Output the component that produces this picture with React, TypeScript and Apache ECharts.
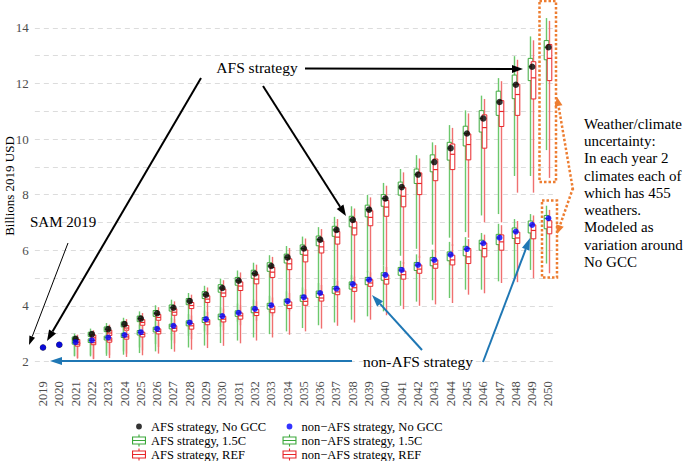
import React, { useEffect, useRef } from "react";
import * as echarts from "echarts";

// ---------- data ----------
const years = [
  "2019","2020","2021","2022","2023","2024","2025","2026","2027","2028","2029","2030",
  "2031","2032","2033","2034","2035","2036","2037","2038","2039","2040","2041","2042",
  "2043","2044","2045","2046","2047","2048","2049","2050",
];

// No GCC point estimates (2019-2050)
const afsNoGcc = [2.5, 2.6, 2.81, 2.98, 3.16, 3.34, 3.54, 3.73, 3.93, 4.17, 4.4, 4.64, 4.9, 5.16, 5.43, 5.74, 6.06, 6.38, 6.73, 7.09, 7.46, 7.86, 8.27, 8.72, 9.17, 9.67, 10.2, 10.74, 11.33, 11.95, 12.6, 13.3];
const nonAfsNoGcc = [2.5, 2.6, 2.69, 2.76, 2.86, 2.95, 3.05, 3.17, 3.28, 3.4, 3.52, 3.63, 3.75, 3.89, 4.02, 4.17, 4.31, 4.46, 4.62, 4.78, 4.94, 5.11, 5.29, 5.47, 5.65, 5.84, 6.04, 6.25, 6.45, 6.67, 6.91, 7.15];

// boxplots 2021-2050: [min, Q1, median, Q3, max]
const boxFirstYearIndex = 2;
const afs15C = [
  [2.2,2.74,2.81,2.88,3.0],[2.22,2.9,2.98,3.05,3.18],[2.28,3.07,3.16,3.24,3.38],[2.36,3.24,3.34,3.42,3.57],
  [2.5,3.43,3.54,3.63,3.8],[2.62,3.62,3.73,3.83,4.02],[2.76,3.81,3.93,4.03,4.22],[2.92,4.04,4.17,4.26,4.46],
  [3.08,4.26,4.4,4.51,4.72],[3.25,4.49,4.64,4.76,4.98],[3.43,4.74,4.9,5.02,5.27],[3.6,4.99,5.16,5.28,5.55],
  [3.78,5.24,5.43,5.55,5.82],[3.98,5.54,5.74,5.86,6.15],[4.2,5.85,6.06,6.19,6.49],[4.4,6.16,6.38,6.51,6.83],
  [4.66,6.5,6.73,6.86,7.2],[4.95,6.84,7.09,7.22,7.58],[5.2,7.2,7.46,7.62,7.99],[5.45,7.58,7.86,8.0,8.42],
  [5.8,7.98,8.27,8.45,8.92],[6.05,8.4,8.72,8.92,9.42],[6.2,8.82,9.17,9.43,9.88],[6.45,9.24,9.67,9.88,10.5],
  [6.65,9.75,10.2,10.46,11.03],[7.25,10.25,10.74,11.02,11.56],[7.3,10.85,11.33,11.72,12.19],[8.67,11.45,11.95,12.3,12.98],
  [8.67,12.1,12.6,12.9,13.69],[9.6,12.85,13.3,13.54,14.35],
];
const afsRef = [
  [2.12,2.62,2.7,2.79,2.96],[2.1,2.76,2.85,2.95,3.12],[2.22,2.93,3.02,3.12,3.32],[2.28,3.12,3.2,3.29,3.52],
  [2.4,3.3,3.4,3.5,3.74],[2.52,3.48,3.58,3.69,3.95],[2.65,3.66,3.77,3.89,4.16],[2.8,3.9,4.01,4.12,4.4],
  [2.96,4.12,4.24,4.36,4.66],[3.12,4.33,4.46,4.6,4.92],[3.3,4.55,4.71,4.86,5.2],[3.46,4.79,4.96,5.12,5.48],
  [3.62,5.02,5.21,5.38,5.76],[3.8,5.3,5.51,5.69,6.08],[4.0,5.58,5.82,6.01,6.42],[4.22,5.9,6.12,6.33,6.76],
  [4.45,6.22,6.47,6.67,7.12],[4.7,6.55,6.8,7.02,7.5],[4.92,6.88,7.18,7.42,7.9],[5.18,7.22,7.55,7.79,8.32],
  [5.5,7.56,7.94,8.25,8.8],[5.72,8.0,8.4,8.78,9.3],[5.92,8.5,8.9,9.28,9.78],[6.15,8.9,9.45,9.82,10.4],
  [6.45,9.25,9.8,10.18,10.92],[7.0,9.67,10.41,10.87,11.44],[7.0,10.45,10.99,11.38,12.08],[8.07,10.85,11.6,11.97,12.85],
  [8.07,11.44,12.2,12.78,13.55],[8.6,12.1,12.9,13.4,14.25],
];
const nonAfs15C = [
  [2.18,2.62,2.68,2.73,2.86],[2.18,2.68,2.75,2.81,2.96],[2.2,2.77,2.85,2.91,3.08],[2.24,2.86,2.94,3.01,3.2],
  [2.3,2.95,3.04,3.11,3.32],[2.36,3.06,3.16,3.23,3.44],[2.44,3.17,3.27,3.34,3.57],[2.5,3.28,3.39,3.46,3.7],
  [2.57,3.4,3.51,3.58,3.83],[2.66,3.5,3.62,3.7,3.95],[2.75,3.62,3.74,3.82,4.08],[2.86,3.75,3.88,3.96,4.22],
  [2.98,3.88,4.01,4.09,4.36],[3.08,4.02,4.16,4.24,4.52],[3.2,4.16,4.3,4.38,4.66],[3.3,4.3,4.45,4.53,4.82],
  [3.4,4.45,4.61,4.69,4.96],[3.5,4.6,4.77,4.86,5.1],[3.62,4.76,4.93,5.02,5.26],[3.8,4.92,5.1,5.19,5.45],
  [4.0,5.1,5.28,5.38,5.62],[4.15,5.27,5.46,5.56,5.85],[4.2,5.44,5.64,5.74,6.02],[4.28,5.62,5.83,5.94,6.3],
  [4.58,5.8,6.03,6.14,6.47],[4.58,6.0,6.24,6.36,6.62],[4.88,6.2,6.44,6.57,6.95],[4.99,6.42,6.66,6.8,7.12],
  [5.29,6.62,6.9,7.05,7.3],[5.52,6.77,7.14,7.25,7.6],
];
const nonAfsRef = [
  [2.1,2.55,2.62,2.68,2.82],[2.08,2.6,2.67,2.75,2.92],[2.12,2.69,2.77,2.85,3.04],[2.16,2.8,2.88,2.96,3.16],
  [2.22,2.88,2.97,3.05,3.28],[2.28,2.99,3.08,3.17,3.4],[2.35,3.09,3.19,3.28,3.52],[2.42,3.16,3.28,3.36,3.65],
  [2.48,3.32,3.42,3.5,3.78],[2.56,3.42,3.52,3.62,3.9],[2.65,3.52,3.64,3.74,4.02],[2.75,3.65,3.76,3.87,4.16],
  [2.86,3.75,3.88,3.99,4.3],[2.96,3.9,4.02,4.14,4.46],[3.08,4.02,4.16,4.28,4.6],[3.18,4.17,4.28,4.4,4.75],
  [3.28,4.4,4.5,4.62,4.9],[3.4,4.52,4.65,4.78,5.05],[3.5,4.7,4.82,4.94,5.2],[3.66,4.78,4.95,5.11,5.4],
  [3.88,4.96,5.12,5.25,5.58],[4.0,5.17,5.32,5.47,5.8],[4.05,5.35,5.5,5.65,5.98],[4.1,5.47,5.65,5.82,6.22],
  [4.4,5.52,5.76,6.06,6.4],[4.45,5.76,6.06,6.26,6.56],[4.82,6.0,6.3,6.55,6.9],[4.85,6.24,6.44,6.65,7.05],
  [4.99,6.41,6.71,6.91,7.25],[5.17,6.59,6.83,7.06,7.45],
];

const yTickLabels = [2, 4, 6, 8, 10, 12, 14];

const seriesNames = {
  afsNo: "AFS strategy, No GCC",
  afs15: "AFS strategy, 1.5C",
  afsRef: "AFS strategy, REF",
  nonNo: "non\u2212AFS strategy, No GCC",
  non15: "non\u2212AFS strategy, 1.5C",
  nonRef: "non\u2212AFS strategy, REF",
};

// ---------- styling ----------
const FONT = "'Liberation Serif', 'DejaVu Serif', serif";
const GREEN = "#3aa83a";
const GREEN_WHISKER = "#6cc86c";
const RED = "#e8262a";
const RED_WHISKER = "#f07070";
const BLUE_ARROW = "#1f77b4";
const ORANGE = "#ed7d31";

const BOX_ICON =
  "path://M0 2H14V3.1H0Z M0 8.9H14V10H0Z M0 2H1.1V10H0Z M12.9 2H14V10H12.9Z M0 5.45H14V6.55H0Z M6.45 0H7.55V2H6.45Z M6.45 10H7.55V12H6.45Z";
const DOT_ICON =
  "path://M4.1 6A2.9 2.9 0 1 1 9.9 6A2.9 2.9 0 1 1 4.1 6Z M0 0L0.01 0L0 0.01Z M14 12L13.99 12L14 11.99Z";

function boxRenderer(color: string, whisker: string, dx: number) {
  return (params: any, api: any) => {
    const idx = api.value(0);
    const pMin = api.coord([idx, api.value(1)]);
    const pQ1 = api.coord([idx, api.value(2)]);
    const pMed = api.coord([idx, api.value(3)]);
    const pQ3 = api.coord([idx, api.value(4)]);
    const pMax = api.coord([idx, api.value(5)]);
    const cx = Math.round(pMin[0] + dx) + 0.5;
    const w = 4.6;
    return {
      type: "group",
      children: [
        { type: "line", shape: { x1: cx, y1: pMax[1], x2: cx, y2: pQ3[1] }, style: { stroke: whisker, lineWidth: 1.4 } },
        { type: "line", shape: { x1: cx, y1: pQ1[1], x2: cx, y2: pMin[1] }, style: { stroke: whisker, lineWidth: 1.4 } },
        {
          type: "rect",
          shape: { x: cx - w / 2, y: pQ3[1], width: w, height: pQ1[1] - pQ3[1] },
          style: { fill: "#ffffff", stroke: color, lineWidth: 1 },
        },
        { type: "line", shape: { x1: cx - w / 2, y1: pMed[1], x2: cx + w / 2, y2: pMed[1] }, style: { stroke: color, lineWidth: 1.2 } },
      ],
    };
  };
}

function toBoxData(boxes: number[][]) {
  return boxes.map((b, i) => [i + boxFirstYearIndex, ...b]);
}

function arrow(
  x1: number, y1: number, x2: number, y2: number,
  color: string, width: number, headLen: number, headW: number, dash?: number[]
) {
  const ang = Math.atan2(y2 - y1, x2 - x1);
  const bx = x2 - headLen * Math.cos(ang);
  const by = y2 - headLen * Math.sin(ang);
  const px = (-Math.sin(ang) * headW) / 2;
  const py = (Math.cos(ang) * headW) / 2;
  return [
    {
      type: "line",
      z: 100,
      silent: true,
      shape: { x1, y1, x2: bx, y2: by },
      style: { stroke: color, lineWidth: width, lineDash: dash || null },
    },
    {
      type: "polygon",
      z: 100,
      silent: true,
      shape: { points: [[x2, y2], [bx + px, by + py], [bx - px, by - py]] },
      style: { fill: color },
    },
  ];
}

function textEl(text: string, x: number, y: number, size: number, align = "center", extra: any = {}, rotation = 0) {
  return {
    type: "text",
    z: 100,
    silent: true,
    x,
    y,
    rotation,
    style: {
      text,
      fontFamily: FONT,
      fontSize: size,
      fill: "#000000",
      align,
      verticalAlign: "middle",
      ...extra,
    },
  };
}

export default function App() {
  const ref = useRef<HTMLDivElement>(null);

  useEffect(() => {
    if (!ref.current) return;
    const chart = echarts.init(ref.current, null, { renderer: "svg" });

    const legendText = { fontFamily: FONT, fontSize: 12.5, lineHeight: 13, color: "#000000" };
    const legendBase = {
      top: 420,
      height: 60,
      padding: 0,
      orient: "vertical",
      itemWidth: 14,
      itemHeight: 12,
      itemGap: 1,
      selectedMode: false,
      textStyle: legendText,
    };
    const option: any = {
      animation: false,
      backgroundColor: "#ffffff",
      textStyle: { fontFamily: FONT },
      grid: { left: 34.85, right: 128.4, top: -5.17, bottom: 71.8, containLabel: false },
      xAxis: {
        type: "category",
        data: years,
        boundaryGap: true,
        axisLine: { show: false },
        axisTick: { show: false },
        splitLine: { show: false },
        axisLabel: {
          interval: 0,
          rotate: 90,
          margin: -8,
          fontFamily: FONT,
          fontSize: 12.5,
          color: "#4d4d4d",
        },
      },
      yAxis: {
        type: "value",
        min: 1,
        max: 15,
        interval: 1,
        axisLine: { show: false },
        axisTick: { show: false },
        axisLabel: {
          margin: 6,
          fontFamily: FONT,
          fontSize: 13,
          color: "#4d4d4d",
          formatter: (v: number) => (yTickLabels.indexOf(v) >= 0 ? String(v) : ""),
        },
        splitLine: {
          show: true,
          showMinLine: false,
          showMaxLine: false,
          lineStyle: { color: "#dcdcdc", width: 1, type: [5, 4] },
        },
      },
      legend: [
        {
          ...legendBase,
          left: 132,
          data: [
            { name: seriesNames.afsNo, icon: DOT_ICON, itemStyle: { color: "#000000", borderWidth: 0 } },
            { name: seriesNames.afs15, icon: BOX_ICON, itemStyle: { color: GREEN, borderWidth: 0 } },
            { name: seriesNames.afsRef, icon: BOX_ICON, itemStyle: { color: RED, borderWidth: 0 } },
          ],
        },
        {
          ...legendBase,
          left: 282.5,
          data: [
            { name: seriesNames.nonNo, icon: DOT_ICON, itemStyle: { color: "#0000ff", borderWidth: 0 } },
            { name: seriesNames.non15, icon: BOX_ICON, itemStyle: { color: GREEN, borderWidth: 0 } },
            { name: seriesNames.nonRef, icon: BOX_ICON, itemStyle: { color: RED, borderWidth: 0 } },
          ],
        },
      ],
      series: [
        {
          name: seriesNames.afs15,
          type: "custom",
          renderItem: boxRenderer(GREEN, GREEN_WHISKER, -2),
          encode: { x: 0, y: [1, 2, 3, 4, 5] },
          data: toBoxData(afs15C),
          itemStyle: { color: GREEN },
          z: 2,
        },
        {
          name: seriesNames.non15,
          type: "custom",
          renderItem: boxRenderer(GREEN, GREEN_WHISKER, -2),
          encode: { x: 0, y: [1, 2, 3, 4, 5] },
          data: toBoxData(nonAfs15C),
          itemStyle: { color: GREEN },
          z: 2,
        },
        {
          name: seriesNames.afsRef,
          type: "custom",
          renderItem: boxRenderer(RED, RED_WHISKER, 1),
          encode: { x: 0, y: [1, 2, 3, 4, 5] },
          data: toBoxData(afsRef),
          itemStyle: { color: RED },
          z: 3,
        },
        {
          name: seriesNames.nonRef,
          type: "custom",
          renderItem: boxRenderer(RED, RED_WHISKER, 1),
          encode: { x: 0, y: [1, 2, 3, 4, 5] },
          data: toBoxData(nonAfsRef),
          itemStyle: { color: RED },
          z: 3,
        },
        {
          name: seriesNames.afsNo,
          type: "scatter",
          data: afsNoGcc,
          symbol: "circle",
          symbolSize: 6.5,
          itemStyle: { color: "#000000" },
          z: 5,
        },
        {
          name: seriesNames.nonNo,
          type: "scatter",
          data: nonAfsNoGcc,
          symbol: "circle",
          symbolSize: 6,
          itemStyle: { color: "#0000ff" },
          z: 6,
        },
      ],
      graphic: [
        // y axis title
        textEl("Billions 2019 USD", 9, 186, 13, "center", {}, Math.PI / 2),
        // annotations
        textEl("AFS strategy", 257, 67, 15.5),
        textEl("SAM 2019", 30, 222, 15, "left"),
        textEl("non-AFS strategy", 418, 361, 15.5),
        {
          type: "text",
          z: 100,
          silent: true,
          x: 584,
          y: 115,
          style: {
            text:
              "Weather/climate\nuncertainty:\nIn each year 2\nclimates each of\nwhich has 455\nweathers.\nModeled as\nvariation around\nNo GCC",
            fontFamily: FONT,
            fontSize: 15,
            lineHeight: 17.3,
            fill: "#000000",
            align: "left",
            verticalAlign: "top",
          },
        },
        // black arrows
        ...arrow(201, 78, 47, 341, "#000000", 2, 11, 8),
        ...arrow(263, 86, 346, 216, "#000000", 2, 11, 8),
        ...arrow(305, 68.5, 523, 69, "#000000", 2, 11, 8),
        ...arrow(68, 243, 29, 345, "#000000", 1, 9, 6),
        // blue arrows
        ...arrow(352, 361, 50, 361, BLUE_ARROW, 2, 12, 8),
        ...arrow(483, 362, 530, 238, BLUE_ARROW, 2, 12, 8),
        ...arrow(422, 350, 372, 295, BLUE_ARROW, 2, 12, 8),
        // orange dotted boxes
        {
          type: "rect",
          z: 100,
          silent: true,
          shape: { x: 539.5, y: 1, width: 16.5, height: 181 },
          style: { fill: "none", stroke: ORANGE, lineWidth: 2.5, lineDash: [2.5, 2] },
        },
        {
          type: "rect",
          z: 100,
          silent: true,
          shape: { x: 542, y: 200.5, width: 15, height: 77 },
          style: { fill: "none", stroke: ORANGE, lineWidth: 2.5, lineDash: [2.5, 2] },
        },
        ...arrow(573, 190, 557, 97, ORANGE, 2.5, 9, 8, [2.5, 2]),
        ...arrow(573, 188, 557, 234, ORANGE, 2.5, 9, 8, [2.5, 2]),
      ],
    };

    chart.setOption(option);
    return () => chart.dispose();
  }, []);

  return (
    <div
      ref={ref}
      style={{ position: "fixed", left: 0, top: 0, width: 685, height: 461, background: "#ffffff" }}
    />
  );
}
